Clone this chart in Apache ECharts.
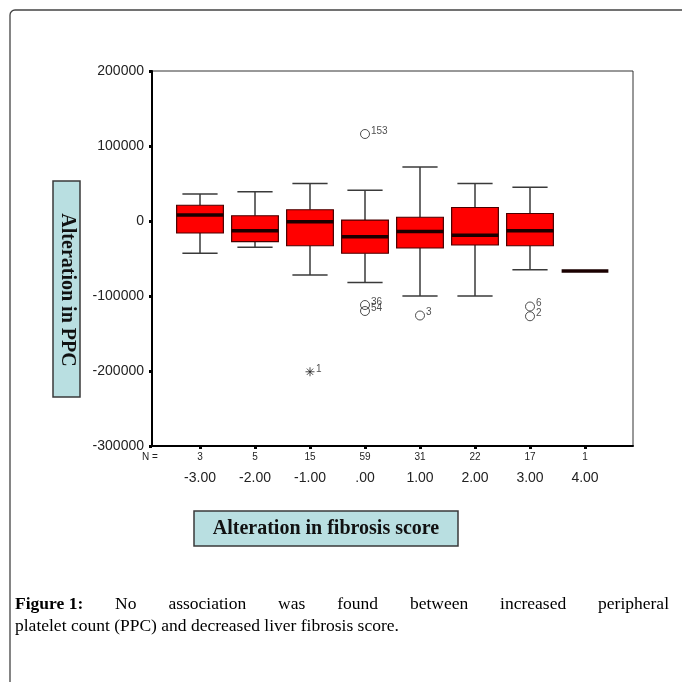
<!DOCTYPE html>
<html><head><meta charset="utf-8">
<script src="https://cdn.jsdelivr.net/npm/echarts@6/dist/echarts.min.js"></script>
<style>html,body{margin:0;padding:0;background:#fff}#c{width:682px;height:682px}</style>
</head><body><div id="c"></div>
<script>
// ---- data ----
const categories = ['-3.00', '-2.00', '-1.00', '.00', '1.00', '2.00', '3.00', '4.00'];
const nCounts = [3, 5, 15, 59, 31, 22, 17, 1];
const whiskerLow = [-43000, -35000, -72000, -82000, -100000, -100000, -65000, -66700];
const q1 = [-16000, -27600, -33000, -43000, -36000, -32000, -33000, -66700];
const medians = [8000, -13000, -1000, -21000, -14000, -19000, -13000, -66700];
const q3 = [21000, 7000, 15000, 1300, 5000, 18000, 10000, -66700];
const whiskerHigh = [36000, 39000, 50000, 41000, 72000, 50000, 45000, -66700];
const outlierCat = ['-1.00', '.00', '.00', '.00', '1.00', '3.00', '3.00'];
const outlierVal = [-201000, 116000, -112000, -120000, -126000, -114000, -127000];
const outlierLabel = ['1', '153', '36', '54', '3', '6', '2'];
const outlierKind = ['extreme', 'out', 'out', 'out', 'out', 'out', 'out'];
const yMin = -300000, yMax = 200000, yStep = 100000;
const yTitle = 'Alteration in PPC';
const xTitle = 'Alteration in fibrosis score';
const nLabel = 'N =';
const captionBold = 'Figure 1:';
const captionLine1 = 'No association was found between increased peripheral';
const captionLine2 = 'platelet count (PPC) and decreased liver fibrosis score.';

// ---- build ----
const boxData = categories.map((c, i) => [i, whiskerLow[i], q1[i], medians[i], q3[i], whiskerHigh[i]]);
const outData = outlierCat.map((c, k) => ({
  value: [categories.indexOf(c), outlierVal[k]],
  label: { formatter: outlierLabel[k] },
  symbol: outlierKind[k] === 'extreme'
    ? 'path://M0,5L10,5M5,0L5,10M1.5,1.5L8.5,8.5M8.5,1.5L1.5,8.5'
    : 'circle'
}));

function renderBox(params, api) {
  const i = api.value(0);
  const band = api.size([1, 0])[0];
  const bw = band * 0.85, cw = band * 0.64;
  const x = api.coord([i, api.value(3)])[0];
  const yLo = api.coord([i, api.value(1)])[1];
  const yQ1 = api.coord([i, api.value(2)])[1];
  const yMed = api.coord([i, api.value(3)])[1];
  const yQ3 = api.coord([i, api.value(4)])[1];
  const yHi = api.coord([i, api.value(5)])[1];
  const ws = { stroke: '#3a3a3a', lineWidth: 1.5 };
  const kids = [];
  if (yHi < yQ3) {
    kids.push({ type: 'line', shape: { x1: x, y1: yHi, x2: x, y2: yQ3 }, style: ws });
    kids.push({ type: 'line', shape: { x1: x - cw / 2, y1: yHi, x2: x + cw / 2, y2: yHi }, style: ws });
  }
  if (yLo > yQ1) {
    kids.push({ type: 'line', shape: { x1: x, y1: yQ1, x2: x, y2: yLo }, style: ws });
    kids.push({ type: 'line', shape: { x1: x - cw / 2, y1: yLo, x2: x + cw / 2, y2: yLo }, style: ws });
  }
  if (yQ1 > yQ3) {
    kids.push({ type: 'rect', shape: { x: x - bw / 2, y: yQ3, width: bw, height: yQ1 - yQ3 },
      style: { fill: '#ff0000', stroke: '#4a0000', lineWidth: 1.2 } });
  }
  kids.push({ type: 'line', shape: { x1: x - bw / 2, y1: yMed, x2: x + bw / 2, y2: yMed },
    style: { stroke: '#1a0000', lineWidth: 3.5 } });
  return { type: 'group', children: kids };
}

// caption justification
const capFont = '"Liberation Serif", "Times New Roman", serif';
const capSize = 17.5;
const mctx = document.createElement('canvas').getContext('2d');
function tw(t, bold) { mctx.font = (bold ? 'bold ' : '') + capSize + 'px ' + capFont; return mctx.measureText(t).width; }
const words1 = [{ t: captionBold, b: true }].concat(captionLine1.split(' ').map(w => ({ t: w, b: false })));
const capLeft = 15, capRight = 669;
const sumW = words1.reduce((s, w) => s + tw(w.t, w.b), 0);
const gap = (capRight - capLeft - sumW) / (words1.length - 1);
const capGraphics = [];
let cx = capLeft;
words1.forEach(w => {
  capGraphics.push({ type: 'text', x: cx, y: 604, style: { text: w.t, fill: '#000', font: (w.b ? 'bold ' : '') + capSize + 'px ' + capFont, align: 'left', verticalAlign: 'middle' } });
  cx += tw(w.t, w.b) + gap;
});
capGraphics.push({ type: 'text', x: capLeft, y: 626, style: { text: captionLine2, fill: '#000', font: capSize + 'px ' + capFont, align: 'left', verticalAlign: 'middle' } });

const chart = echarts.init(document.getElementById('c'), null, { renderer: 'canvas' });
chart.setOption({
  animation: false,
  backgroundColor: '#fff',
  grid: [
    { left: 152, top: 71, width: 481, height: 375, show: true, borderColor: '#333', borderWidth: 1, containLabel: false },
    { left: 172.5, top: 71, width: 440, height: 375, containLabel: false }
  ],
  xAxis: [
    { gridIndex: 0, type: 'value', min: 0, max: 1, axisLine: { show: true, onZero: false, lineStyle: { color: '#000', width: 2 } },
      axisTick: { show: false }, axisLabel: { show: false }, splitLine: { show: false } },
    { gridIndex: 1, type: 'category', data: categories, boundaryGap: true, position: 'bottom',
      axisLine: { show: false, onZero: false },
      axisTick: { show: true, alignWithLabel: true, length: 3, lineStyle: { color: '#000', width: 3 } },
      axisLabel: {
        interval: 0,
        margin: 4,
        formatter: (v, idx) => '{n|' + nCounts[idx] + '}\n{c|' + v + '}',
        rich: {
          n: { fontSize: 10, lineHeight: 14, color: '#222', fontFamily: '"Liberation Sans Narrow", "Liberation Sans", Arial' },
          c: { fontSize: 14, lineHeight: 28, color: '#222', fontFamily: '"Liberation Sans", Arial' }
        }
      } }
  ],
  yAxis: [
    { gridIndex: 0, type: 'value', min: yMin, max: yMax, interval: yStep,
      axisLine: { show: true, onZero: false, lineStyle: { color: '#000', width: 2 } },
      axisTick: { show: true, length: 3, lineStyle: { color: '#000', width: 3 } },
      axisLabel: { margin: 8, fontSize: 14, color: '#222', fontFamily: '"Liberation Sans", Arial', formatter: v => String(v) },
      splitLine: { show: false } },
    { gridIndex: 1, type: 'value', min: yMin, max: yMax, interval: yStep, show: false }
  ],
  series: [
    { type: 'custom', xAxisIndex: 1, yAxisIndex: 1, renderItem: renderBox, data: boxData,
      encode: { x: 0, y: [1, 2, 3, 4, 5] }, z: 3 },
    { type: 'scatter', xAxisIndex: 1, yAxisIndex: 1, data: outData, symbolSize: 9, z: 4,
      itemStyle: { color: 'transparent', borderColor: '#222', borderWidth: 1 },
      label: { show: true, position: 'right', distance: 1, offset: [0, -3], fontSize: 10, color: '#222', fontFamily: '"Liberation Sans", Arial' } }
  ],
  graphic: [
    { type: 'rect', shape: { x: 10, y: 10, width: 700, height: 700, r: 5 }, style: { fill: 'none', stroke: '#444', lineWidth: 1.3 }, z: 0 },
    { type: 'text', x: 150, y: 457, style: { text: nLabel, fill: '#222', font: '10px "Liberation Sans", Arial', align: 'center', verticalAlign: 'middle' } },
    { type: 'rect', shape: { x: 53, y: 181, width: 27, height: 216 }, style: { fill: '#b9dfe1', stroke: '#3a3a3a', lineWidth: 1.5 } },
    { type: 'text', x: 67, y: 290, rotation: -Math.PI / 2, style: { text: yTitle, fill: '#111', font: 'bold 20px "Liberation Serif", serif', align: 'center', verticalAlign: 'middle' } },
    { type: 'rect', shape: { x: 194, y: 511, width: 264, height: 35 }, style: { fill: '#b9dfe1', stroke: '#3a3a3a', lineWidth: 1.5 } },
    { type: 'text', x: 326, y: 529, style: { text: xTitle, fill: '#111', font: 'bold 20px "Liberation Serif", serif', align: 'center', verticalAlign: 'middle' } }
  ].concat(capGraphics)
});
</script>
</body></html>
